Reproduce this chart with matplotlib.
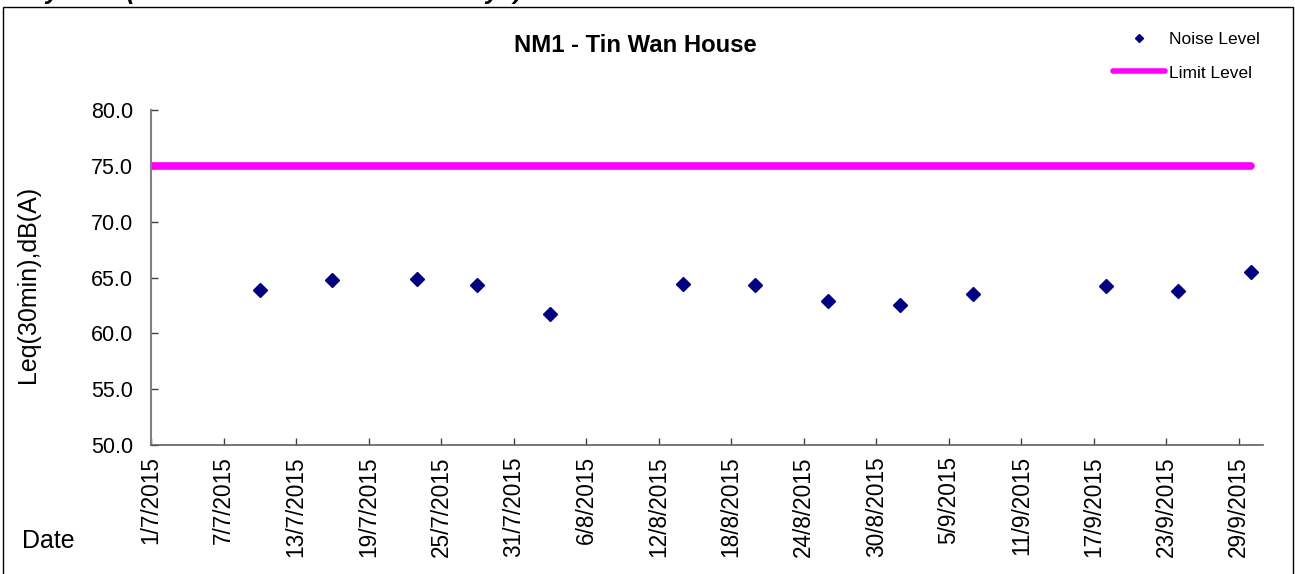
import datetime as dt
import matplotlib
matplotlib.use("Agg")
import matplotlib.pyplot as plt
import matplotlib.dates as mdates
from matplotlib.patches import Rectangle
from matplotlib.ticker import FuncFormatter, FixedLocator

plt.rcParams['font.family'] = ['Liberation Sans', 'DejaVu Sans']

# ---- data ----
noise_dates = ["2015-07-10", "2015-07-16", "2015-07-23", "2015-07-28", "2015-08-03",
               "2015-08-14", "2015-08-20", "2015-08-26", "2015-09-01", "2015-09-07",
               "2015-09-18", "2015-09-24", "2015-09-30"]
noise_levels = [63.9, 64.8, 64.9, 64.3, 61.7, 64.4, 64.3, 62.9, 62.5, 63.5, 64.2, 63.8, 65.5]
limit_dates = ["2015-07-01", "2015-09-30"]
limit_levels = [75.0, 75.0]
x_start, x_end = "2015-07-01", "2015-10-01"
tick_step_days = 6
y_ticks = [50, 55, 60, 65, 70, 75, 80]

title = "NM1 - Tin Wan House"
ylabel = "Leq(30min),dB(A)"
xlabel = "Date"
top_text = "Day-time (0700-1900 on Normal Weekdays)"

def to_dt(s):
    return dt.datetime.strptime(s, "%Y-%m-%d")

nd = [to_dt(s) for s in noise_dates]
ld = [to_dt(s) for s in limit_dates]
x0, x1 = to_dt(x_start), to_dt(x_end)

W, H = 1295, 574
fig = plt.figure(figsize=(W / 100, H / 100), dpi=100)
ax = fig.add_axes([151 / W, 1 - 445 / H, (1263 - 151) / W, (445 - 110) / H])

ax.plot(ld, limit_levels, color='#FF00FF', lw=5.5, solid_capstyle='round', label='Limit Level', zorder=2)
ax.plot(nd, noise_levels, linestyle='none', marker='D', ms=6.8, color='#000080',
        markeredgecolor='#000080', label='Noise Level', zorder=3)

ax.set_xlim(x0, x1)
ax.set_ylim(50, 80)

ticks = []
d = x0
while d < x1:
    ticks.append(mdates.date2num(d))
    d += dt.timedelta(days=tick_step_days)
ax.xaxis.set_major_locator(FixedLocator(ticks))

def fmt(v, pos):
    dd = mdates.num2date(v)
    return f"{dd.day}/{dd.month}/{dd.year}"

ax.xaxis.set_major_formatter(FuncFormatter(fmt))
ax.set_yticks(y_ticks)
ax.yaxis.set_major_formatter(FuncFormatter(lambda v, p: f"{v:.1f}"))

ax.tick_params(axis='x', direction='in', length=5, width=1, color='#404040', pad=8, labelsize=16.3)
ax.tick_params(axis='y', direction='in', length=5, width=1, color='#404040', pad=13, labelsize=15.5)
for lab in ax.get_xticklabels():
    lab.set_rotation(90)

ax.spines['top'].set_visible(False)
ax.spines['right'].set_visible(False)
ax.spines['left'].set_color('#808080')
ax.spines['left'].set_linewidth(1.5)
ax.spines['bottom'].set_color('#606060')
ax.spines['bottom'].set_linewidth(1.2)

ax.set_ylabel(ylabel, fontsize=18)
ax.yaxis.set_label_coords((40 - 151) / (1263 - 151), (445 - 284) / (445 - 110))

fig.text(22 / W, 1 - 541 / H, xlabel, fontsize=18, ha='left', va='center')
fig.text(635 / W, 1 - 46 / H, title, fontsize=17.2, fontweight='bold', ha='center', va='center')

handles, labels = ax.get_legend_handles_labels()
order = [1, 0]
leg = fig.legend([handles[i] for i in order], [labels[i] for i in order],
                 loc='upper left', bbox_to_anchor=(1113 / W, 1 - 32 / H),
                 frameon=False, fontsize=12.5, handlelength=3.0, handletextpad=0.2,
                 labelspacing=1.05, borderpad=0, borderaxespad=0, markerscale=0.6)
for line in leg.get_lines():
    if line.get_label() == 'Limit Level':
        line.set_linewidth(4)

# outer border
fig.patches.append(Rectangle((3 / W, -0.1), (1293 - 3) / W, 1.1 - 6.5 / H,
                             transform=fig.transFigure, fill=False, edgecolor='black',
                             linewidth=1.0))

fig.text(14 / W, 1 + 0.5 / H, top_text, fontsize=18, fontweight='bold', fontstyle='italic',
         ha='left', va='baseline')

fig.savefig("out.png", dpi=100)
